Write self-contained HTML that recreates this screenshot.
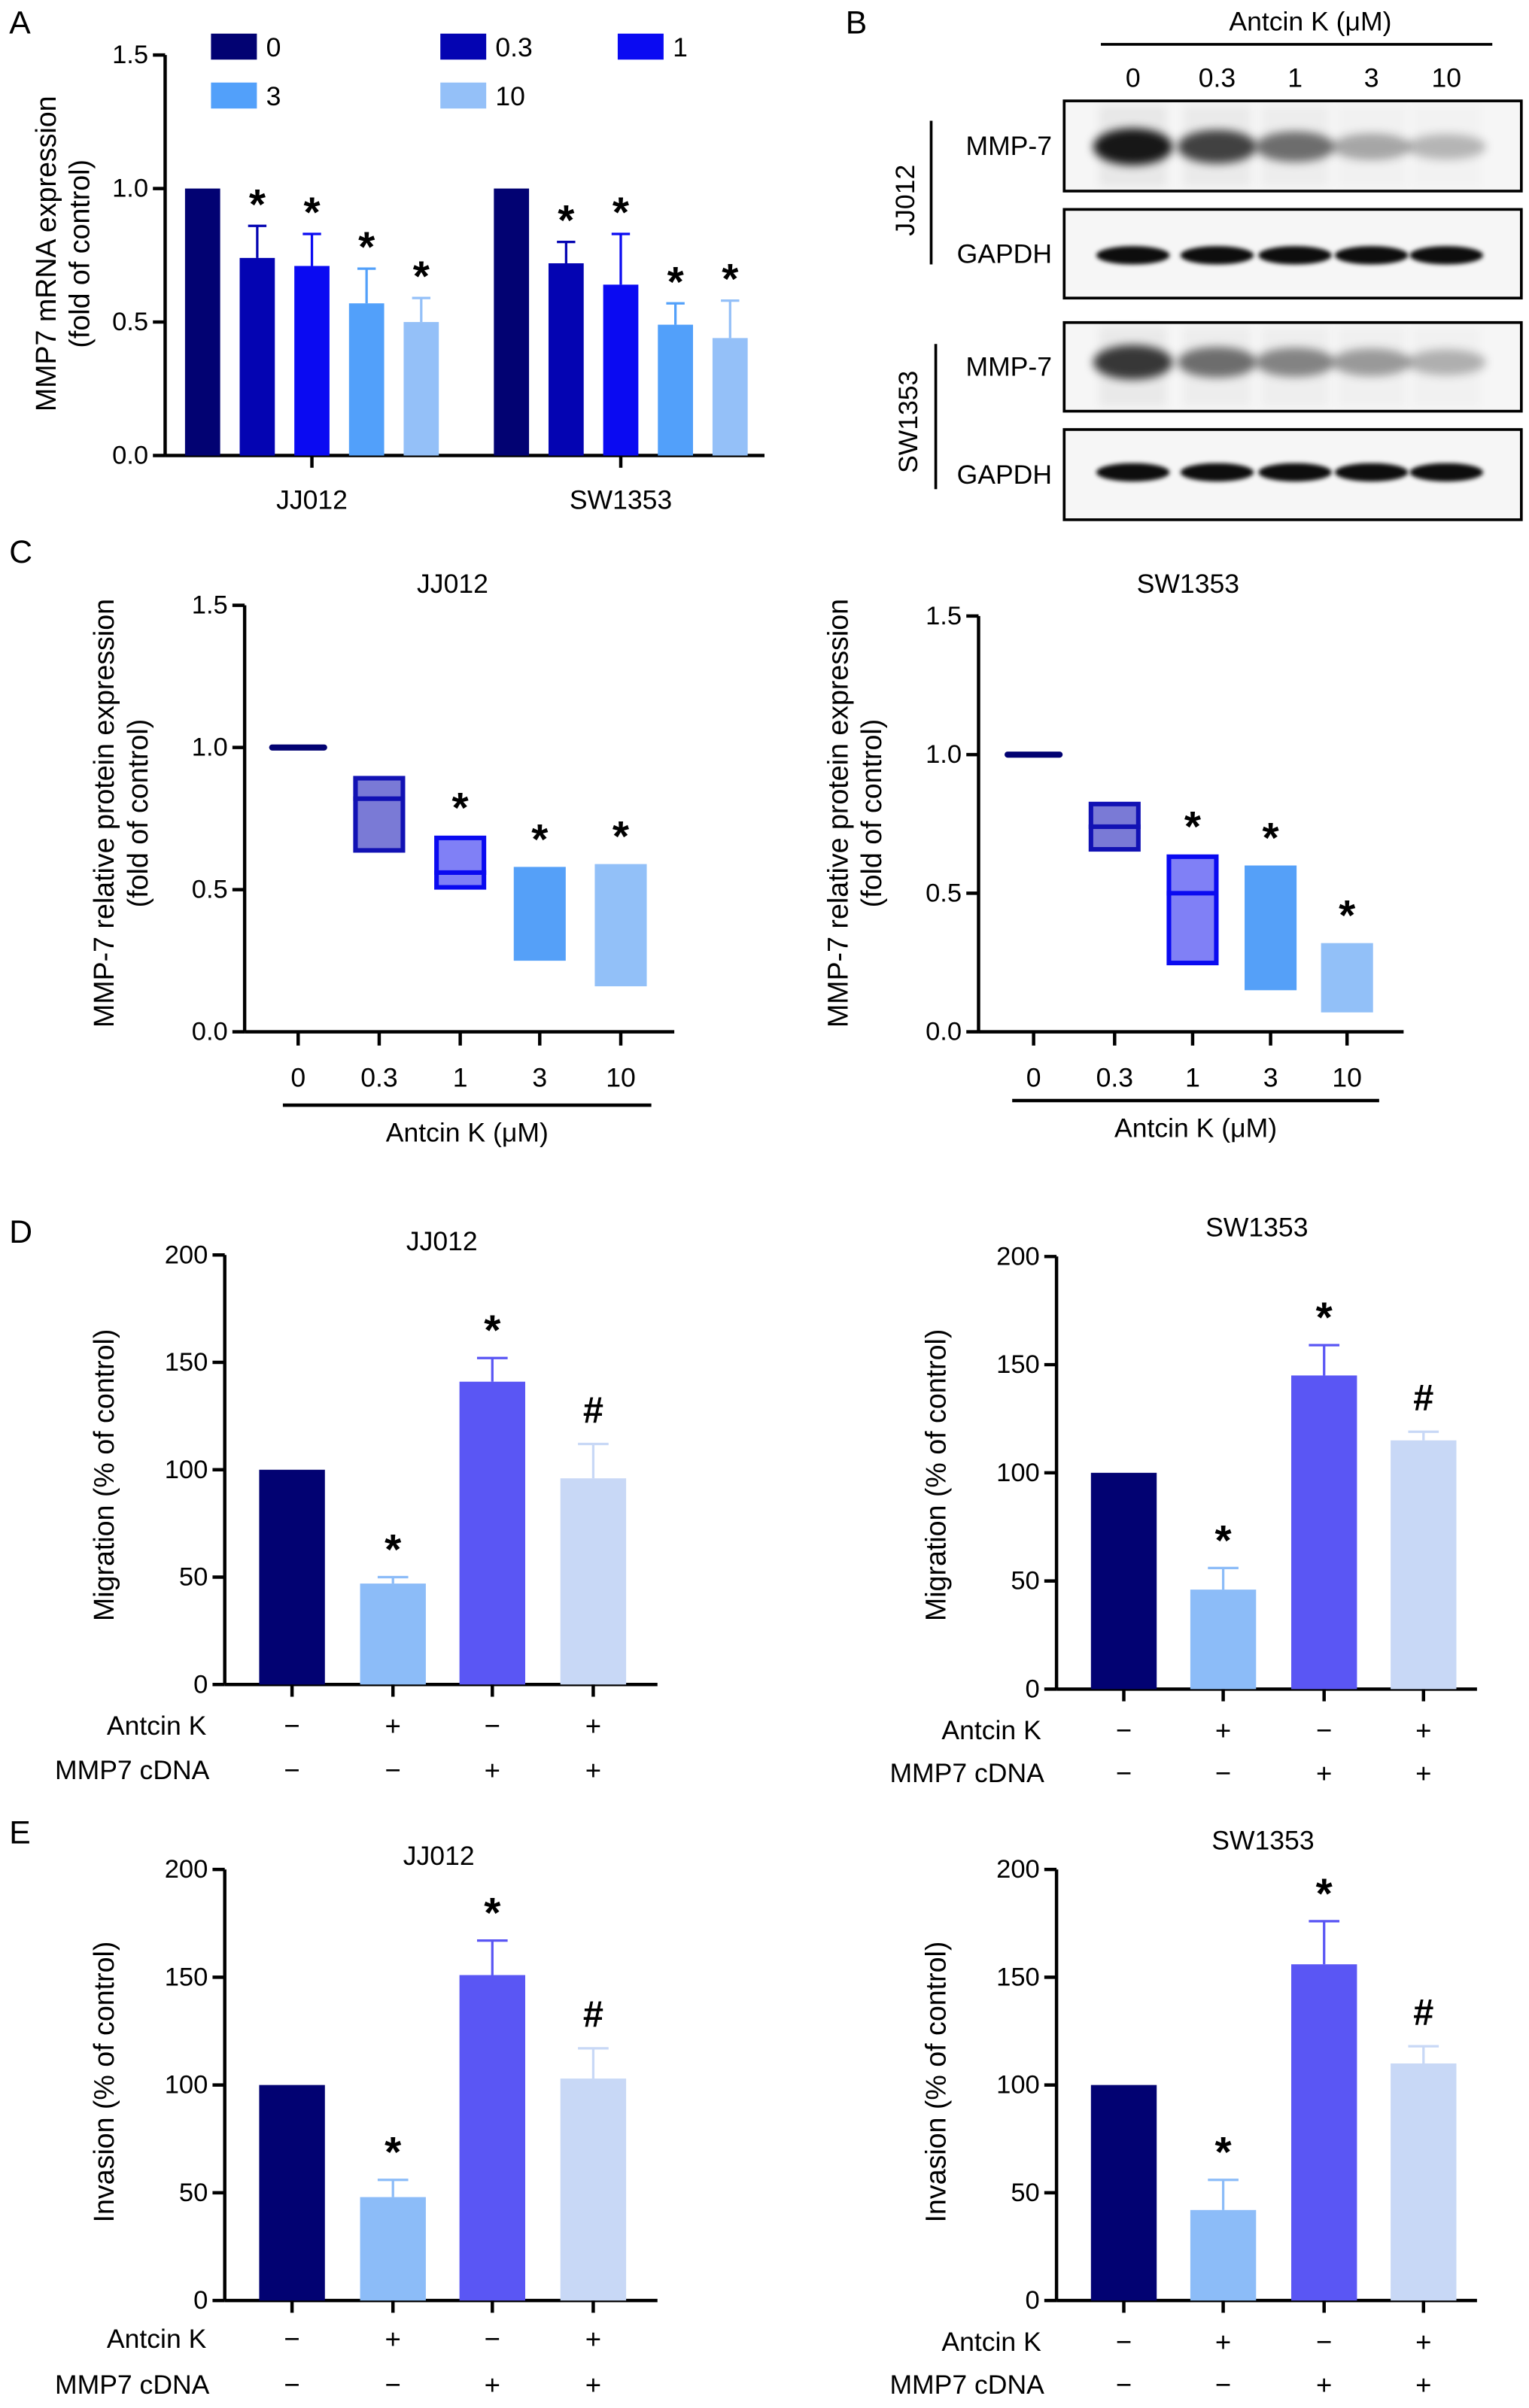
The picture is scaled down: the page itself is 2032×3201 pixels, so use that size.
<!DOCTYPE html>
<html><head><meta charset="utf-8"><style>
html,body{margin:0;padding:0;background:#fff}
svg{display:block;font-family:"Liberation Sans",Arial,sans-serif}
</style></head><body>
<svg id="fig" xmlns="http://www.w3.org/2000/svg" width="2032" height="3201" viewBox="0 0 1000 1575.3">
<defs><filter id="blur" x="-30%" y="-60%" width="160%" height="220%"><feGaussianBlur stdDeviation="3"/></filter>
<filter id="blur2" x="-30%" y="-60%" width="160%" height="220%"><feGaussianBlur stdDeviation="1.5"/></filter></defs>
<g font-size="21">
<text x="6" y="22">A</text>
<text x="553" y="22">B</text>
<text x="6" y="368">C</text>
<text x="6" y="813">D</text>
<text x="6" y="1206">E</text>
</g>
</svg>
<script>
// ---------- DATA ----------
const aGroups = ['JJ012','SW1353'];
const aDoses = ['0','0.3','1','3','10'];
const aJJ = [1.00,0.74,0.71,0.57,0.50];
const aJJerr = [0,0.12,0.12,0.13,0.09];
const aSW = [1.00,0.72,0.64,0.49,0.44];
const aSWerr = [0,0.08,0.19,0.08,0.14];
const aTicks = [0.0,0.5,1.0,1.5];
const aTickLabels = ['0.0','0.5','1.0','1.5'];

const cDoses = ['0','0.3','1','3','10'];
const cJJmin = [1.00,0.63,0.50,0.25,0.16];
const cJJmed = [1.00,0.82,0.56,null,null];
const cJJmax = [1.00,0.90,0.69,0.58,0.59];
const cJJstar = [false,false,true,true,true];
const cSWmin = [1.00,0.65,0.24,0.15,0.07];
const cSWmed = [1.00,0.74,0.50,null,null];
const cSWmax = [1.00,0.83,0.64,0.60,0.32];
const cSWstar = [false,false,true,true,true];

const dAntcin = ['−','+','−','+'];
const dCdna = ['−','−','+','+'];
const dTicks = [0,50,100,150,200];
const dMigJJ = [100,47,141,96];
const dMigJJerr = [0,3,11,16];
const dMigSW = [100,46,145,115];
const dMigSWerr = [0,10,14,4];
const dInvJJ = [100,48,151,103];
const dInvJJerr = [0,8,16,14];
const dInvSW = [100,42,156,110];
const dInvSWerr = [0,14,20,8];
const dMarks = ['', '*', '*', '#'];

const colA = ['#020272','#0404b2','#0a0af2','#52a0fa','#94c0f8'];
const colCfill = ['#020272','#7a7ad6','#8080f6','#55a0f8','#92c0f8'];
const colCstroke = ['#020272','#1212b4','#0a0af0','#55a0f8','#92c0f8'];
const colD = ['#020272','#8cbcf8','#5a56f4','#c8d8f6'];

// ---------- HELPERS ----------
const NS='http://www.w3.org/2000/svg';
const svg=document.getElementById('fig');
const FS=17.5;
function el(tag,attrs,parent){const e=document.createElementNS(NS,tag);for(const k in attrs)e.setAttribute(k,attrs[k]);(parent||svg).appendChild(e);return e;}
function txt(x,y,s,size,anchor,parent,extra){const t=el('text',Object.assign({x:x,y:y,'font-size':size,'text-anchor':anchor||'middle','dominant-baseline':'central'},extra||{}),parent);t.textContent=s;return t;}
function scale(y0,y1,vmax){return v=>y0-(v/vmax)*(y0-y1);}

function yAxis(ax,y0,ytop,vmax,ticks,labels,name){
  const g=el('g',{});
  
  
  const ys=scale(y0,ytop,vmax);
  el('line',{x1:ax,y1:ytop,x2:ax,y2:y0,stroke:'#000','stroke-width':2.2},g);
  ticks.forEach((t,i)=>{const y=ys(t);el('line',{x1:ax-8,y1:y,x2:ax,y2:y,stroke:'#000','stroke-width':2.2},g);
    const l=txt(ax-11,y,labels[i],17,'end',g);
    
    });
  return ys;
}
function yTitle(x,y,lines,size){
  lines.forEach((s,i)=>{const t=txt(x+i*22,y,s,size,'middle',null,{transform:`rotate(-90 ${x+i*22} ${y})`});
    
    });
}
function mark(x,y,s){const t=txt(x,y,s,s==='#'?24:28,'middle',null,{'font-weight':'bold'});
  
  }

// ---------- PANEL A ----------
(function(){
  const ax=108,y0=298,ytop=36;
  const ys=yAxis(ax,y0,ytop,1.5,aTicks,aTickLabels,'panel-a-y-axis');
  el('line',{x1:ax,y1:y0,x2:500,y2:y0,stroke:'#000','stroke-width':2.2});
  yTitle(30,166,['MMP7 mRNA expression','(fold of control)'],18.5);
  const starts=[121,323], pitch=35.75, bw=23;
  [aJJ,aSW].forEach((vals,gi)=>{
    const errs=gi===0?aJJerr:aSWerr;
    vals.forEach((v,i)=>{
      const x=starts[gi]+i*pitch, top=ys(v);
      const r=el('rect',{x:x,y:top,width:bw,height:y0-top,fill:colA[i]});
      
      
      if(errs[i]>0){const ey=ys(v+errs[i]);
        el('line',{x1:x+bw/2,y1:top,x2:x+bw/2,y2:ey,stroke:colA[i],'stroke-width':1.6});
        el('line',{x1:x+bw/2-6,y1:ey,x2:x+bw/2+6,y2:ey,stroke:colA[i],'stroke-width':1.6});
        mark(x+bw/2,ey-14,'*');}
    });
    const cx=starts[gi]+2*pitch+bw/2;
    el('line',{x1:cx,y1:y0,x2:cx,y2:306,stroke:'#000','stroke-width':2.2});
    const gl=txt(cx,327,aGroups[gi],FS,'middle');
    
    
  });
  const legX=[138,288,404,138,288], legY=[22,22,22,54,54];
  aDoses.forEach((d,i)=>{
    const r=el('rect',{x:legX[i],y:legY[i],width:30,height:17,fill:colA[i]});
    
    
    const t=txt(legX[i]+36,legY[i]+9,d,FS,'start');
    
    
  });
})();

// ---------- PANEL B (western blots) ----------
(function(){
  const t=txt(857,14,'Antcin K (μM)',FS,'middle');
  
  
  el('line',{x1:720,y1:29,x2:976,y2:29,stroke:'#000','stroke-width':1.8});
  const lanes=[741,796,847,897,946];
  cDoses.forEach((d,i)=>{const l=txt(lanes[i],51,d,FS,'middle');
    
    });
  const boxes=[[66,125,'MMP-7',[1,0.8,0.6,0.35,0.28],96],[137,195,'GAPDH',[0.95,0.95,0.95,0.95,0.95],167],[211,269,'MMP-7',[0.85,0.6,0.5,0.4,0.3],237],[281,340,'GAPDH',[0.95,0.95,0.95,0.95,0.95],309]];
  boxes.forEach((b,bi)=>{
    const g=el('g',{});
    
    
    el('rect',{x:696,y:b[0],width:299,height:b[1]-b[0],fill:'#f6f6f6',stroke:'#000','stroke-width':1.8},g);
    lanes.forEach((lx,i)=>{
      const a=b[3][i];
      const isG=b[2]==='GAPDH';
      el('ellipse',{cx:lx,cy:b[4],rx:isG?24:26,ry:isG?6:(7+5*a),fill:`rgba(0,0,0,${isG?0.95:a*0.9})`,filter:isG?'url(#blur2)':'url(#blur)'},g);
      if(!isG){el('rect',{x:lx-22,y:b[0]+3,width:44,height:b[1]-b[0]-6,fill:`rgba(0,0,0,${0.06*a})`,filter:'url(#blur)'},g);}
    });
    const l=txt(688,(b[0]+b[1])/2,b[2],FS,'end');
    
    
  });
  el('line',{x1:609,y1:79,x2:609,y2:173,stroke:'#000','stroke-width':1.8});
  el('line',{x1:612,y1:225,x2:612,y2:320,stroke:'#000','stroke-width':1.8});
  const c1=txt(592,131,'JJ012',FS,'middle',null,{transform:'rotate(-90 592 131)'});
  
  
  const c2=txt(594,276,'SW1353',FS,'middle',null,{transform:'rotate(-90 594 276)'});
  
  
})();

// ---------- PANEL C ----------
function panelC(o){
  const ys=yAxis(o.ax,o.y0,o.ytop,1.5,aTicks,aTickLabels,o.name+'-y-axis');
  el('line',{x1:o.ax,y1:o.y0,x2:o.xend,y2:o.y0,stroke:'#000','stroke-width':2.2});
  yTitle(o.tx,o.ty,['MMP-7 relative protein expression','(fold of control)'],18.5);
  const tt=txt(o.titleX,o.titleY,o.title,FS,'middle');
  
  
  const bw=34;
  cDoses.forEach((d,i)=>{
    const cx=o.centers[i];
    el('line',{x1:cx,y1:o.y0,x2:cx,y2:o.y0+9,stroke:'#000','stroke-width':2.2});
    const l=txt(cx,o.y0+30,d,FS,'middle');
    
    
    const lo=ys(o.min[i]),hi=ys(o.max[i]);
    if(o.min[i]===o.max[i]){
      const ln=el('line',{x1:cx-bw/2,y1:hi,x2:cx+bw/2,y2:hi,stroke:colCstroke[i],'stroke-width':4,'stroke-linecap':'round'});
      
      
    } else {
      const outlined=o.med[i]!==null;
      const r=el('rect',{x:cx-bw/2+(outlined?1.5:0),y:hi+(outlined?1.5:0),width:bw-(outlined?3:0),height:lo-hi-(outlined?3:0),fill:colCfill[i],stroke:outlined?colCstroke[i]:'none','stroke-width':outlined?3:0});
      
      
      if(outlined){const my=ys(o.med[i]);el('line',{x1:cx-bw/2,y1:my,x2:cx+bw/2,y2:my,stroke:colCstroke[i],'stroke-width':3});}
    }
    if(o.star[i]) mark(cx,hi-18,'*');
  });
  el('line',{x1:o.ulx1,y1:o.uly,x2:o.ulx2,y2:o.uly,stroke:'#000','stroke-width':2.2});
  const xl=txt((o.ulx1+o.ulx2)/2,o.uly+18,'Antcin K (μM)',FS,'middle');
  
  
}
panelC({name:'panel-c-jj012',ax:160,y0:675,ytop:396,xend:441,tx:68,ty:532,title:'JJ012',titleX:296,titleY:382,centers:[195,248,301,353,406],min:cJJmin,med:cJJmed,max:cJJmax,star:cJJstar,ulx1:185,ulx2:426,uly:723});
panelC({name:'panel-c-sw1353',ax:640,y0:675,ytop:403,xend:918,tx:548,ty:532,title:'SW1353',titleX:777,titleY:382,centers:[676,729,780,831,881],min:cSWmin,med:cSWmed,max:cSWmax,star:cSWstar,ulx1:662,ulx2:902,uly:720});

// ---------- PANELS D & E ----------
function panelDE(o){
  const ys=yAxis(o.ax,o.y0,o.ytop,200,dTicks,dTicks.map(String),o.name+'-y-axis');
  el('line',{x1:o.ax,y1:o.y0,x2:o.xend,y2:o.y0,stroke:'#000','stroke-width':2.2});
  yTitle(o.tx,o.ty,[o.ylabel],18.5);
  const tt=txt(o.titleX,o.titleY,o.title,FS,'middle');
  
  
  const bw=43;
  o.vals.forEach((v,i)=>{
    const cx=o.centers[i],top=ys(v);
    const r=el('rect',{x:cx-bw/2,y:top,width:bw,height:o.y0-top,fill:colD[i]});
    
    
    if(o.errs[i]>0){const ey=ys(v+o.errs[i]);
      el('line',{x1:cx,y1:top,x2:cx,y2:ey,stroke:colD[i],'stroke-width':1.6});
      el('line',{x1:cx-10,y1:ey,x2:cx+10,y2:ey,stroke:colD[i],'stroke-width':1.6});}
    if(dMarks[i]) mark(cx,ys(v+o.errs[i])-(dMarks[i]==='#'?22:18),dMarks[i]);
    el('line',{x1:cx,y1:o.y0,x2:cx,y2:o.y0+8,stroke:'#000','stroke-width':2.2});
    const s1=txt(cx,o.r1,dAntcin[i],18,'middle');
    
    
    const s2=txt(cx,o.r2,dCdna[i],18,'middle');
    
    
  });
  const l1=txt(o.lx1,o.r1,'Antcin K',FS,'end');
  
  
  const l2=txt(o.lx2,o.r2,'MMP7 cDNA',FS,'end');
  
  
}
panelDE({name:'panel-d-jj012',ax:147,y0:1102,ytop:821,xend:430,tx:68,ty:965,ylabel:'Migration (% of control)',title:'JJ012',titleX:289,titleY:812,centers:[191,257,322,388],vals:dMigJJ,errs:dMigJJerr,r1:1129,r2:1158,lx1:135,lx2:137});
panelDE({name:'panel-d-sw1353',ax:691,y0:1105,ytop:822,xend:966,tx:612,ty:965,ylabel:'Migration (% of control)',title:'SW1353',titleX:822,titleY:803,centers:[735,800,866,931],vals:dMigSW,errs:dMigSWerr,r1:1132,r2:1160,lx1:681,lx2:683});
panelDE({name:'panel-e-jj012',ax:147,y0:1505,ytop:1223,xend:430,tx:68,ty:1362,ylabel:'Invasion (% of control)',title:'JJ012',titleX:287,titleY:1214,centers:[191,257,322,388],vals:dInvJJ,errs:dInvJJerr,r1:1530,r2:1560,lx1:135,lx2:137});
panelDE({name:'panel-e-sw1353',ax:691,y0:1505,ytop:1223,xend:966,tx:612,ty:1362,ylabel:'Invasion (% of control)',title:'SW1353',titleX:826,titleY:1204,centers:[735,800,866,931],vals:dInvSW,errs:dInvSWerr,r1:1532,r2:1560,lx1:681,lx2:683});
</script>
</body></html>
